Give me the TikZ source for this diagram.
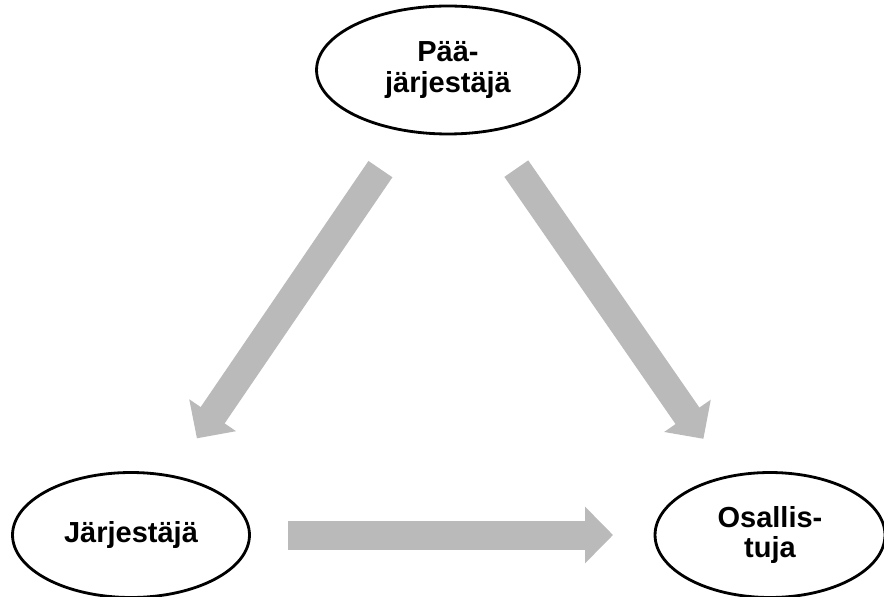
\documentclass[tikz,border=0pt]{standalone}
\usepackage{fontspec}
\setmainfont{Liberation Sans}
\usepackage{xcolor}
\usetikzlibrary{shapes.geometric,arrows.meta}
\definecolor{arrowgray}{HTML}{BABABA}

\begin{document}
\begin{tikzpicture}[
    x=0.02cm, y=-0.02cm,
    font=\fontsize{16.5pt}{17.5pt}\selectfont\bfseries,
    party/.style={
        draw=black,
        ellipse,
        line width=1.6pt,
        inner sep=0pt,
        align=center
    },
    bigarr/.style={
        draw=arrowgray,
        line width=0.58cm,
        -{Triangle[width=1.1cm,length=0.56cm]}
    }
]
\useasboundingbox (0,0) rectangle (884,597);

% roles
\node[party, minimum width=5.26cm, minimum height=2.56cm] (paa) at (448,70)
{Pää-\\järjestäjä};
\node[party, minimum width=4.74cm, minimum height=2.5cm] (jar) at (131,535)
{Järjestäjä};
\node[party, minimum width=4.6cm, minimum height=2.5cm] (osa) at (770,535)
{Osallis-\\tuja};

% flows
\draw[bigarr, shorten <=2.4cm, shorten >=2.34cm] (paa.center) -- (jar.center);
\draw[bigarr, shorten <=2.4cm, shorten >=2.34cm] (paa.center) -- (osa.center);
\draw[bigarr, shorten <=3.14cm, shorten >=3.14cm] (jar.center) -- (osa.center);

\end{tikzpicture}
\end{document}
